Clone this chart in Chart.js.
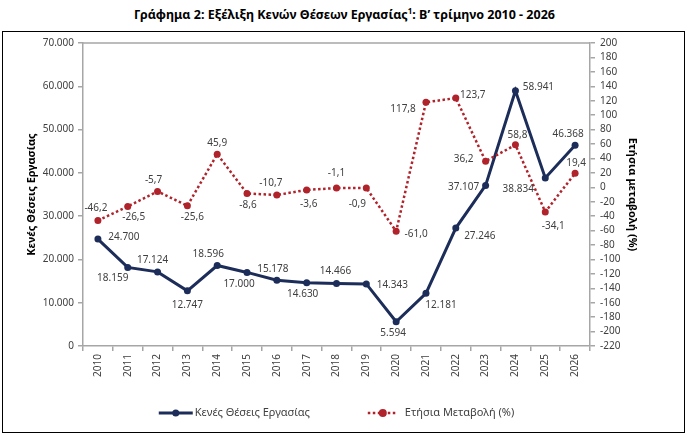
<!DOCTYPE html>
<html lang="el">
<head>
<meta charset="utf-8">
<title>Κενές Θέσεις Εργασίας</title>
<script src="https://cdn.jsdelivr.net/npm/chart.js@4.4.1/dist/chart.umd.min.js"></script>
<style>
  html, body { margin: 0; padding: 0; background: #fff; }
  body { width: 689px; height: 437px; position: relative; overflow: hidden; font-family: "Noto Sans", sans-serif; }
  #titulo {
    position: absolute; left: 0; top: 5px; width: 689px; text-align: center;
    font-size: 12.5px; font-weight: bold; color: #000;
  }
  #titulo sup { font-size: 8px; }
  #marco {
    position: absolute; left: 2px; top: 31px; width: 683px; height: 402px;
    border: 1px solid #000; box-sizing: border-box;
  }
  #marco canvas { position: absolute; left: 0; top: 0; }
</style>
</head>
<body>
<div id="titulo">Γράφημα 2: Εξέλιξη Κενών Θέσεων Εργασίας<sup>1</sup>: Β’ τρίμηνο 2010 - 2026</div>
<div id="marco"><canvas id="grafica" width="681" height="400"></canvas></div>

<script>
// ===================== ΔΕΔΟΜΕΝΑ =====================
const etiquetasEtos = ['2010','2011','2012','2013','2014','2015','2016','2017','2018','2019','2020','2021','2022','2023','2024','2025','2026'];
const kenesTheseis = [24700, 18159, 17124, 12747, 18596, 17000, 15178, 14630, 14466, 14343, 5594, 12181, 27246, 37107, 58941, 38834, 46368];
const etisiaMetavoli = [-46.2, -26.5, -5.7, -25.6, 45.9, -8.6, -10.7, -3.6, -1.1, -0.9, -61.0, 117.8, 123.7, 36.2, 58.8, -34.1, 19.4];

// άξονες
const aristeroMin = 0, aristeroMax = 70000, aristeroVima = 10000;
const dexiMin = -220, dexiMax = 200, dexiVima = 20;

// θέση ετικετών τιμών (μετατόπιση από το σημείο, px)
const thesiEtiketonMple = [[26,-2],[-15,11],[-5,-12],[0,14],[-9,-11],[-8,12],[-4,-11],[-4,11],[-1,-12],[26,1],[-3,11],[15,12],[24,8],[-22,2],[23,-4],[-27,11],[-7,-11]];
const thesiEtiketonKokkino = [[-2,-12],[6,11],[-4,-11],[5,11],[0,-11],[1,12],[-6,-12],[2,14],[0,-15],[-9,16],[20,3],[-23,7],[17,-3],[-22,-2],[2,-10],[8,14],[1,-10]];

const MPLE = '#1c2d5a';
const KOKKINO = '#b0232b';
const GKRI = '#a6a6a6';
const KEIMENO = '#404040';
const GRAMMATOSEIRA = '"Noto Sans", sans-serif';

function morfiHiliadon(v){
  return String(v).replace(/\B(?=(\d{3})+(?!\d))/g, '.');
}
function morfiDekadikou(v){
  return v.toFixed(1).replace('.', ',');
}

// ===================== PLUGINS =====================
const pluginPlaisio = {
  id: 'plaisio',
  beforeDatasetsDraw(chart){
    const {ctx, chartArea} = chart;
    ctx.save();
    ctx.strokeStyle = GKRI;
    ctx.lineWidth = 1.5;
    ctx.beginPath();
    ctx.moveTo(chartArea.left, chartArea.top);
    ctx.lineTo(chartArea.right, chartArea.top);
    ctx.stroke();
    ctx.restore();
  }
};

const pluginEtiketes = {
  id: 'etiketes',
  afterDatasetsDraw(chart){
    const ctx = chart.ctx;
    const rithmiseis = [
      {thesi: thesiEtiketonMple, morfi: morfiHiliadon},
      {thesi: thesiEtiketonKokkino, morfi: morfiDekadikou}
    ];
    ctx.save();
    ctx.font = '10px ' + GRAMMATOSEIRA;
    ctx.fillStyle = KEIMENO;
    ctx.textAlign = 'center';
    ctx.textBaseline = 'middle';
    chart.data.datasets.forEach((ds, i) => {
      const meta = chart.getDatasetMeta(i);
      meta.data.forEach((pt, j) => {
        const [dx, dy] = rithmiseis[i].thesi[j];
        ctx.fillText(rithmiseis[i].morfi(ds.data[j]), pt.x + dx, pt.y + dy);
      });
    });
    ctx.restore();
  }
};

const pluginYpomnima = {
  id: 'ypomnima',
  afterDraw(chart){
    const {ctx, chartArea} = chart;
    const ds = chart.data.datasets;
    const y = 381;
    ctx.save();
    ctx.font = '11px ' + GRAMMATOSEIRA;
    const w1 = ctx.measureText(ds[0].label).width;
    const w2 = ctx.measureText(ds[1].label).width;
    const synolo = 34 + 2 + w1 + 58 + 30 + 7 + w2;
    let x = (chartArea.left + chartArea.right) / 2 - synolo / 2;

    // γραμμή 1
    ctx.strokeStyle = MPLE; ctx.lineWidth = 3;
    ctx.beginPath(); ctx.moveTo(x, y); ctx.lineTo(x + 34, y); ctx.stroke();
    ctx.fillStyle = MPLE;
    ctx.beginPath(); ctx.arc(x + 17, y, 3.5, 0, Math.PI * 2); ctx.fill();
    x += 36;
    ctx.fillStyle = KEIMENO; ctx.textBaseline = 'middle'; ctx.textAlign = 'left';
    ctx.fillText(ds[0].label, x, y);
    x += w1 + 58;

    // γραμμή 2
    ctx.strokeStyle = KOKKINO; ctx.lineWidth = 2.5; ctx.setLineDash([2.5, 2.5]);
    ctx.beginPath(); ctx.moveTo(x, y); ctx.lineTo(x + 30, y); ctx.stroke();
    ctx.setLineDash([]);
    ctx.fillStyle = KOKKINO;
    ctx.beginPath(); ctx.arc(x + 15, y, 4, 0, Math.PI * 2); ctx.fill();
    x += 37;
    ctx.fillStyle = KEIMENO;
    ctx.fillText(ds[1].label, x, y);
    ctx.restore();
  }
};

// ===================== ΓΡΑΦΗΜΑ =====================
function dimiourgiaGrafimatos(){
  const ctx = document.getElementById('grafica');
  new Chart(ctx, {
    type: 'line',
    data: {
      labels: etiquetasEtos,
      datasets: [
        {
          label: 'Κενές Θέσεις Εργασίας',
          data: kenesTheseis,
          yAxisID: 'y',
          borderColor: MPLE,
          backgroundColor: MPLE,
          borderWidth: 3,
          pointRadius: 3.5,
          pointBorderWidth: 0,
          tension: 0,
          order: 1
        },
        {
          label: 'Ετήσια Μεταβολή (%)',
          data: etisiaMetavoli,
          yAxisID: 'y2',
          borderColor: KOKKINO,
          backgroundColor: KOKKINO,
          borderWidth: 2.5,
          borderDash: [2.5, 2.5],
          pointRadius: 3.5,
          pointBorderWidth: 0,
          tension: 0,
          order: 0
        }
      ]
    },
    options: {
      responsive: false,
      animation: false,
      devicePixelRatio: 1,
      layout: { padding: { top: 9, left: 0, right: 0, bottom: 40 } },
      plugins: {
        legend: { display: false },
        tooltip: { enabled: false }
      },
      scales: {
        x: {
          offset: true,
          grid: { offset: true, drawOnChartArea: false, drawTicks: true, tickLength: 5, color: GKRI, lineWidth: 1.5 },
          border: { color: GKRI, width: 1.5 },
          ticks: { minRotation: 90, maxRotation: 90, autoSkip: false, padding: 3, color: KEIMENO, font: { family: GRAMMATOSEIRA, size: 10 } },
          afterFit(scale){ scale.height = 46; }
        },
        y: {
          position: 'left',
          min: aristeroMin, max: aristeroMax,
          grid: { drawOnChartArea: false, drawTicks: true, tickLength: 5, color: GKRI, lineWidth: 1.5 },
          border: { color: GKRI, width: 1.5 },
          ticks: { stepSize: aristeroVima, padding: 4, color: KEIMENO, font: { family: GRAMMATOSEIRA, size: 10 }, callback: v => morfiHiliadon(v) },
          title: { display: true, text: 'Κενές Θέσεις Εργασίας', color: '#000', font: { family: GRAMMATOSEIRA, size: 11, weight: 'bold' }, padding: { top: 22, bottom: 0 } },
          afterFit(scale){ scale.width = 80; }
        },
        y2: {
          position: 'right',
          min: dexiMin, max: dexiMax,
          grid: { drawOnChartArea: false, drawTicks: true, tickLength: 5, color: GKRI, lineWidth: 1.5 },
          border: { color: GKRI, width: 1.5 },
          ticks: { stepSize: dexiVima, maxTicksLimit: 25, autoSkip: false, padding: 5, color: KEIMENO, font: { family: GRAMMATOSEIRA, size: 10 }, callback: v => String(v) },
          title: { display: true, text: 'Ετήσια μεταβολή (%)', color: '#000', font: { family: GRAMMATOSEIRA, size: 11, weight: 'bold' }, padding: { top: 45, bottom: 0 } },
          afterFit(scale){ scale.width = 94; }
        }
      }
    },
    plugins: [pluginPlaisio, pluginEtiketes, pluginYpomnima]
  });
}

dimiourgiaGrafimatos();
</script>
</body>
</html>
